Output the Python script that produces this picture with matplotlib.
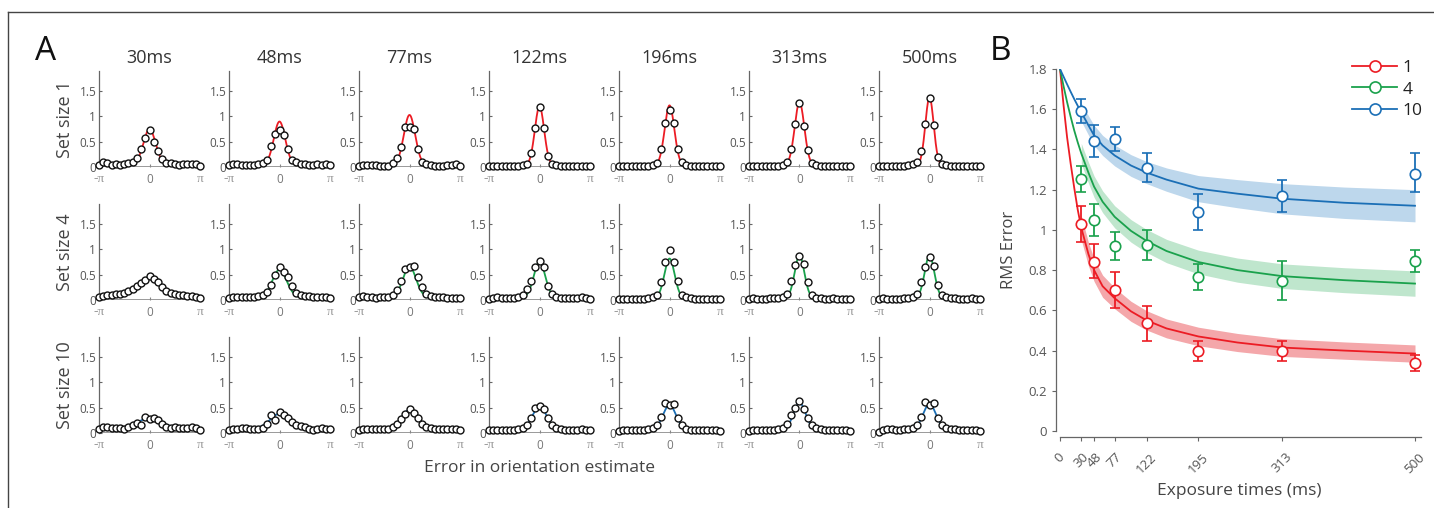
import numpy as np
import matplotlib.pyplot as plt
from matplotlib.lines import Line2D

plt.rcParams['font.family'] = ['Open Sans', 'DejaVu Sans']

W, H = 1434, 508

# ---- panel A: error histograms per exposure / set size ----
exposures = ['30ms', '48ms', '77ms', '122ms', '196ms', '313ms', '500ms']
row_names = ['Set size 1', 'Set size 4', 'Set size 10']

hist_ss1 = [
    [0.03, 0.10, 0.08, 0.04, 0.05, 0.04, 0.05, 0.07, 0.10, 0.17, 0.36, 0.58, 0.73, 0.50, 0.32, 0.16, 0.08, 0.07, 0.05, 0.04, 0.05, 0.06, 0.06, 0.05, 0.02],
    [0.03, 0.06, 0.05, 0.04, 0.04, 0.04, 0.04, 0.05, 0.07, 0.14, 0.42, 0.65, 0.74, 0.63, 0.36, 0.13, 0.10, 0.06, 0.05, 0.04, 0.04, 0.05, 0.04, 0.05, 0.03],
    [0.02, 0.03, 0.03, 0.04, 0.03, 0.01, 0.01, 0.02, 0.08, 0.18, 0.40, 0.80, 0.80, 0.75, 0.36, 0.10, 0.05, 0.03, 0.02, 0.02, 0.02, 0.03, 0.03, 0.06, 0.02],
    [0.02, 0.02, 0.02, 0.02, 0.02, 0.02, 0.02, 0.02, 0.03, 0.05, 0.28, 0.77, 1.18, 0.78, 0.22, 0.06, 0.03, 0.02, 0.02, 0.02, 0.02, 0.02, 0.02, 0.02, 0.02],
    [0.02, 0.02, 0.02, 0.02, 0.02, 0.02, 0.02, 0.02, 0.03, 0.08, 0.35, 0.87, 1.13, 0.88, 0.35, 0.10, 0.03, 0.02, 0.02, 0.02, 0.02, 0.02, 0.02, 0.02, 0.02],
    [0.02, 0.02, 0.02, 0.02, 0.02, 0.02, 0.02, 0.02, 0.03, 0.09, 0.36, 0.85, 1.27, 0.82, 0.33, 0.08, 0.03, 0.02, 0.02, 0.02, 0.02, 0.02, 0.02, 0.02, 0.02],
    [0.02, 0.02, 0.02, 0.02, 0.02, 0.02, 0.02, 0.03, 0.05, 0.10, 0.32, 0.86, 1.37, 0.83, 0.20, 0.06, 0.03, 0.02, 0.02, 0.02, 0.02, 0.02, 0.02, 0.02, 0.02],
]
hist_ss4 = [
    [0.05, 0.08, 0.09, 0.10, 0.12, 0.12, 0.14, 0.18, 0.22, 0.28, 0.34, 0.40, 0.48, 0.42, 0.36, 0.26, 0.17, 0.13, 0.11, 0.10, 0.09, 0.08, 0.07, 0.06, 0.03],
    [0.03, 0.05, 0.05, 0.05, 0.05, 0.05, 0.06, 0.08, 0.10, 0.15, 0.30, 0.50, 0.65, 0.55, 0.45, 0.28, 0.14, 0.10, 0.08, 0.07, 0.05, 0.06, 0.05, 0.05, 0.03],
    [0.05, 0.07, 0.06, 0.05, 0.04, 0.05, 0.05, 0.06, 0.10, 0.20, 0.38, 0.62, 0.65, 0.67, 0.45, 0.25, 0.12, 0.08, 0.05, 0.05, 0.05, 0.04, 0.04, 0.04, 0.03],
    [0.02, 0.04, 0.05, 0.04, 0.04, 0.04, 0.04, 0.06, 0.10, 0.22, 0.38, 0.65, 0.78, 0.65, 0.28, 0.12, 0.06, 0.04, 0.03, 0.03, 0.03, 0.04, 0.06, 0.04, 0.02],
    [0.02, 0.02, 0.02, 0.02, 0.02, 0.02, 0.02, 0.03, 0.05, 0.10, 0.35, 0.75, 0.98, 0.75, 0.38, 0.10, 0.05, 0.03, 0.02, 0.02, 0.02, 0.02, 0.02, 0.02, 0.02],
    [0.02, 0.03, 0.02, 0.02, 0.02, 0.03, 0.03, 0.03, 0.05, 0.12, 0.38, 0.70, 0.88, 0.72, 0.35, 0.10, 0.04, 0.03, 0.02, 0.02, 0.03, 0.02, 0.02, 0.02, 0.02],
    [0.02, 0.03, 0.02, 0.02, 0.02, 0.02, 0.03, 0.03, 0.05, 0.12, 0.35, 0.65, 0.85, 0.68, 0.30, 0.10, 0.05, 0.03, 0.03, 0.02, 0.02, 0.02, 0.03, 0.02, 0.02],
]
hist_ss10 = [
    [0.07, 0.11, 0.11, 0.10, 0.10, 0.10, 0.08, 0.11, 0.15, 0.20, 0.16, 0.32, 0.28, 0.30, 0.25, 0.18, 0.12, 0.10, 0.11, 0.10, 0.10, 0.10, 0.11, 0.10, 0.06],
    [0.05, 0.08, 0.08, 0.10, 0.10, 0.08, 0.07, 0.08, 0.10, 0.18, 0.35, 0.26, 0.42, 0.35, 0.30, 0.22, 0.15, 0.13, 0.12, 0.08, 0.06, 0.08, 0.10, 0.08, 0.08],
    [0.05, 0.07, 0.08, 0.07, 0.07, 0.08, 0.07, 0.08, 0.12, 0.18, 0.28, 0.38, 0.47, 0.40, 0.30, 0.18, 0.12, 0.09, 0.08, 0.08, 0.07, 0.07, 0.08, 0.07, 0.05],
    [0.05, 0.06, 0.06, 0.05, 0.05, 0.06, 0.06, 0.07, 0.10, 0.16, 0.30, 0.50, 0.53, 0.48, 0.30, 0.15, 0.10, 0.07, 0.06, 0.06, 0.05, 0.06, 0.07, 0.06, 0.05],
    [0.04, 0.05, 0.06, 0.05, 0.05, 0.05, 0.06, 0.07, 0.10, 0.16, 0.32, 0.60, 0.55, 0.58, 0.30, 0.15, 0.08, 0.06, 0.06, 0.05, 0.05, 0.05, 0.06, 0.05, 0.04],
    [0.04, 0.05, 0.05, 0.05, 0.05, 0.06, 0.06, 0.07, 0.10, 0.18, 0.35, 0.50, 0.63, 0.48, 0.30, 0.15, 0.09, 0.07, 0.06, 0.06, 0.05, 0.05, 0.06, 0.05, 0.04],
    [0.02, 0.06, 0.07, 0.07, 0.06, 0.06, 0.07, 0.07, 0.09, 0.15, 0.32, 0.62, 0.56, 0.60, 0.30, 0.15, 0.10, 0.08, 0.07, 0.06, 0.06, 0.06, 0.06, 0.05, 0.04],
]

# von Mises fit parameters (peak height, baseline, concentration) per panel
fit_peak = [[0.75, 0.90, 1.03, 1.20, 1.22, 1.28, 1.38],
            [0.46, 0.60, 0.66, 0.76, 0.82, 0.88, 0.88],
            [0.30, 0.38, 0.46, 0.52, 0.55, 0.60, 0.57]]
fit_base = [[0.04, 0.03, 0.02, 0.02, 0.02, 0.02, 0.02],
            [0.06, 0.04, 0.04, 0.04, 0.03, 0.03, 0.03],
            [0.09, 0.08, 0.07, 0.06, 0.05, 0.05, 0.05]]
fit_kappa = [[7, 8, 8, 12, 11, 11, 15],
             [2.5, 5, 6, 8, 10, 11, 11],
             [2, 3, 4, 5, 6, 7, 6]]

# ---- panel B: RMS error vs exposure ----
times = [30, 48, 77, 122, 195, 313, 500]
time_ticks = [0, 30, 48, 77, 122, 195, 313, 500]

rms_1 = [1.03, 0.84, 0.70, 0.535, 0.40, 0.40, 0.34]
rms_1_lo = [0.94, 0.76, 0.61, 0.45, 0.35, 0.35, 0.30]
rms_1_hi = [1.12, 0.93, 0.79, 0.62, 0.45, 0.45, 0.38]
rms_4 = [1.255, 1.05, 0.92, 0.925, 0.765, 0.745, 0.845]
rms_4_lo = [1.19, 0.97, 0.85, 0.85, 0.70, 0.65, 0.79]
rms_4_hi = [1.32, 1.13, 0.99, 1.00, 0.83, 0.845, 0.90]
rms_10 = [1.59, 1.44, 1.45, 1.31, 1.09, 1.17, 1.28]
rms_10_lo = [1.53, 1.36, 1.39, 1.24, 1.00, 1.09, 1.19]
rms_10_hi = [1.65, 1.52, 1.51, 1.38, 1.18, 1.25, 1.38]

# model curves sampled along exposure time
model_t = [0, 5, 10, 15, 20, 25, 30, 40, 48, 60, 77, 100, 122, 150, 195, 250, 313, 400, 500]
model_1 = [1.80, 1.62, 1.46, 1.33, 1.21, 1.10, 1.01, 0.88, 0.80, 0.72, 0.66, 0.595, 0.55, 0.51, 0.47, 0.44, 0.415, 0.40, 0.385]
model_4 = [1.80, 1.715, 1.635, 1.563, 1.495, 1.435, 1.38, 1.285, 1.215, 1.14, 1.065, 0.995, 0.945, 0.895, 0.84, 0.80, 0.77, 0.75, 0.733]
model_10 = [1.80, 1.762, 1.724, 1.687, 1.651, 1.617, 1.585, 1.52, 1.47, 1.42, 1.37, 1.32, 1.285, 1.25, 1.205, 1.18, 1.155, 1.135, 1.12]
# half-width of the shaded band, from 30 ms onwards
band_1 = [0.060, 0.058, 0.056, 0.055, 0.052, 0.050, 0.048, 0.047, 0.046, 0.045, 0.044, 0.043, 0.043]
band_4 = [0.050, 0.052, 0.053, 0.054, 0.055, 0.056, 0.057, 0.058, 0.059, 0.060, 0.061, 0.062, 0.063]
band_10 = [0.045, 0.048, 0.050, 0.050, 0.052, 0.054, 0.055, 0.058, 0.065, 0.070, 0.075, 0.078, 0.080]

colors = ['#EC1C24', '#1AA14C', '#1B6FB6']
band_colors = ['#F4A7AA', '#BFE6CD', '#BDD7EC']
grey = '#555555'


def box(left, top, w, h):
    return [left / W, 1 - (top + h) / H, w / W, h / H]


fig = plt.figure(figsize=(W / 100, H / 100), dpi=100)

# outer frame lines
fig.add_artist(Line2D([8 / W, 8 / W], [0, 1 - 12 / H], color='#444444', lw=1))
fig.add_artist(Line2D([8 / W, 1], [1 - 12 / H, 1 - 12 / H], color='#444444', lw=1))

fig.text(35 / W, 1 - 60 / H, 'A', fontsize=24, color='#111111')
fig.text(990 / W, 1 - 60 / H, 'B', fontsize=24, color='#111111')

xs = np.linspace(-np.pi, np.pi, 25)
xf = np.linspace(-np.pi, np.pi, 300)
all_hists = [hist_ss1, hist_ss4, hist_ss10]

for r in range(3):
    zero_y = 167 + 133 * r
    for c in range(7):
        ax = fig.add_axes(box(99 + 130 * c, zero_y - 96, 101, 96))
        base = fit_base[r][c]
        amp = fit_peak[r][c] - base
        fit = base + amp * np.exp(fit_kappa[r][c] * (np.cos(xf) - 1))
        ax.axhline(0, color='#9a9a9a', lw=1.4, zorder=1)
        ax.plot(xf, fit, color=colors[r], lw=1.3, zorder=2)
        ax.plot(xs, all_hists[r][c], 'o', ms=5, mfc='white', mec='#111111',
                mew=1.0, zorder=3, clip_on=False)
        ax.set_xlim(-np.pi, np.pi)
        ax.set_ylim(0, 1.9)
        for s in ['top', 'right', 'bottom']:
            ax.spines[s].set_visible(False)
        ax.spines['left'].set_color('#666666')
        ax.spines['left'].set_linewidth(0.9)
        ax.set_yticks([0, 0.5, 1, 1.5])
        ax.set_yticklabels(['0', '0.5', '1', '1.5'])
        ax.set_xticks([-np.pi, 0, np.pi])
        ax.set_xticklabels(['-π', '0', 'π'])
        ax.tick_params(axis='y', direction='in', length=2, width=0.8,
                       colors='#666666', labelsize=8.5, labelcolor=grey, pad=2)
        ax.tick_params(axis='x', direction='in', length=2, width=0.8,
                       colors='#888888', labelsize=8.5, labelcolor='#777777', pad=4)
        for i, lab in enumerate(ax.get_xticklabels()):
            if i != 1:
                lab.set_fontfamily('Liberation Serif')
                lab.set_color('#999999')
                lab.set_fontsize(9.5)
        if r == 0:
            ax.set_title(exposures[c], fontsize=13, color='#333333', pad=6)
        if c == 0:
            ax.set_ylabel(row_names[r], fontsize=13, color='#444444', labelpad=4)

fig.text(539 / W, 1 - 468 / H, 'Error in orientation estimate', fontsize=12.5,
         color='#444444', ha='center', va='center')

# ---- panel B ----
axb = fig.add_axes(box(1056, 69, 366, 362))
axb.set_xlim(-4 / 0.71, 362 / 0.71)
axb.set_ylim(0, 1.8)

rms = [rms_1, rms_4, rms_10]
rms_lo = [rms_1_lo, rms_4_lo, rms_10_lo]
rms_hi = [rms_1_hi, rms_4_hi, rms_10_hi]
models = [model_1, model_4, model_10]
bands = [band_1, band_4, band_10]
mt = np.array(model_t)
start = model_t.index(30)

for k in range(3):
    m = np.array(models[k])
    hw = np.array(bands[k])
    axb.fill_between(mt[start:], m[start:] - hw, m[start:] + hw,
                     color=band_colors[k], lw=0, zorder=1)
for k in range(3):
    axb.plot(mt, models[k], color=colors[k], lw=1.3, zorder=2)
for k in range(3):
    mean = np.array(rms[k])
    err = [mean - np.array(rms_lo[k]), np.array(rms_hi[k]) - mean]
    axb.errorbar(times, mean, yerr=err, fmt='o', ms=7.5, mfc='white',
                 mec=colors[k], mew=1.2, ecolor=colors[k], elinewidth=1.3,
                 capsize=3.5, capthick=1.3, zorder=3, clip_on=False)

for s in ['top', 'right']:
    axb.spines[s].set_visible(False)
axb.spines['bottom'].set_position(('outward', 4))
axb.spines['bottom'].set_bounds(0, 362 / 0.71 - 2)
for s in ['left', 'bottom']:
    axb.spines[s].set_color('#666666')
    axb.spines[s].set_linewidth(0.9)
axb.set_yticks(np.arange(0, 1.81, 0.2))
axb.set_yticklabels(['0', '0.2', '0.4', '0.6', '0.8', '1', '1.2', '1.4', '1.6', '1.8'])
axb.set_xticks(time_ticks)
axb.set_xticklabels([str(t) for t in time_ticks], rotation=45, ha='center', va='top')
axb.tick_params(axis='both', length=3, width=0.8, colors='#666666',
                labelsize=9.5, labelcolor=grey)
axb.tick_params(axis='x', pad=7)
axb.set_ylabel('RMS Error', fontsize=12, color='#444444', labelpad=8)
axb.set_xlabel('Exposure times (ms)', fontsize=12.5, color='#444444', labelpad=5)

handles = [Line2D([], [], color=colors[k], lw=1.3, marker='o', ms=8,
                  mfc='white', mec=colors[k], mew=1.2) for k in range(3)]
fig.legend(handles, ['1', '4', '10'], loc='upper left',
           bbox_to_anchor=(1352 / W, 1 - 60 / H), frameon=False, fontsize=12.5,
           handlelength=2.6, handletextpad=0.3, labelspacing=0.3,
           borderpad=0, borderaxespad=0, labelcolor='#222222')

fig.savefig('out.png', dpi=100)
